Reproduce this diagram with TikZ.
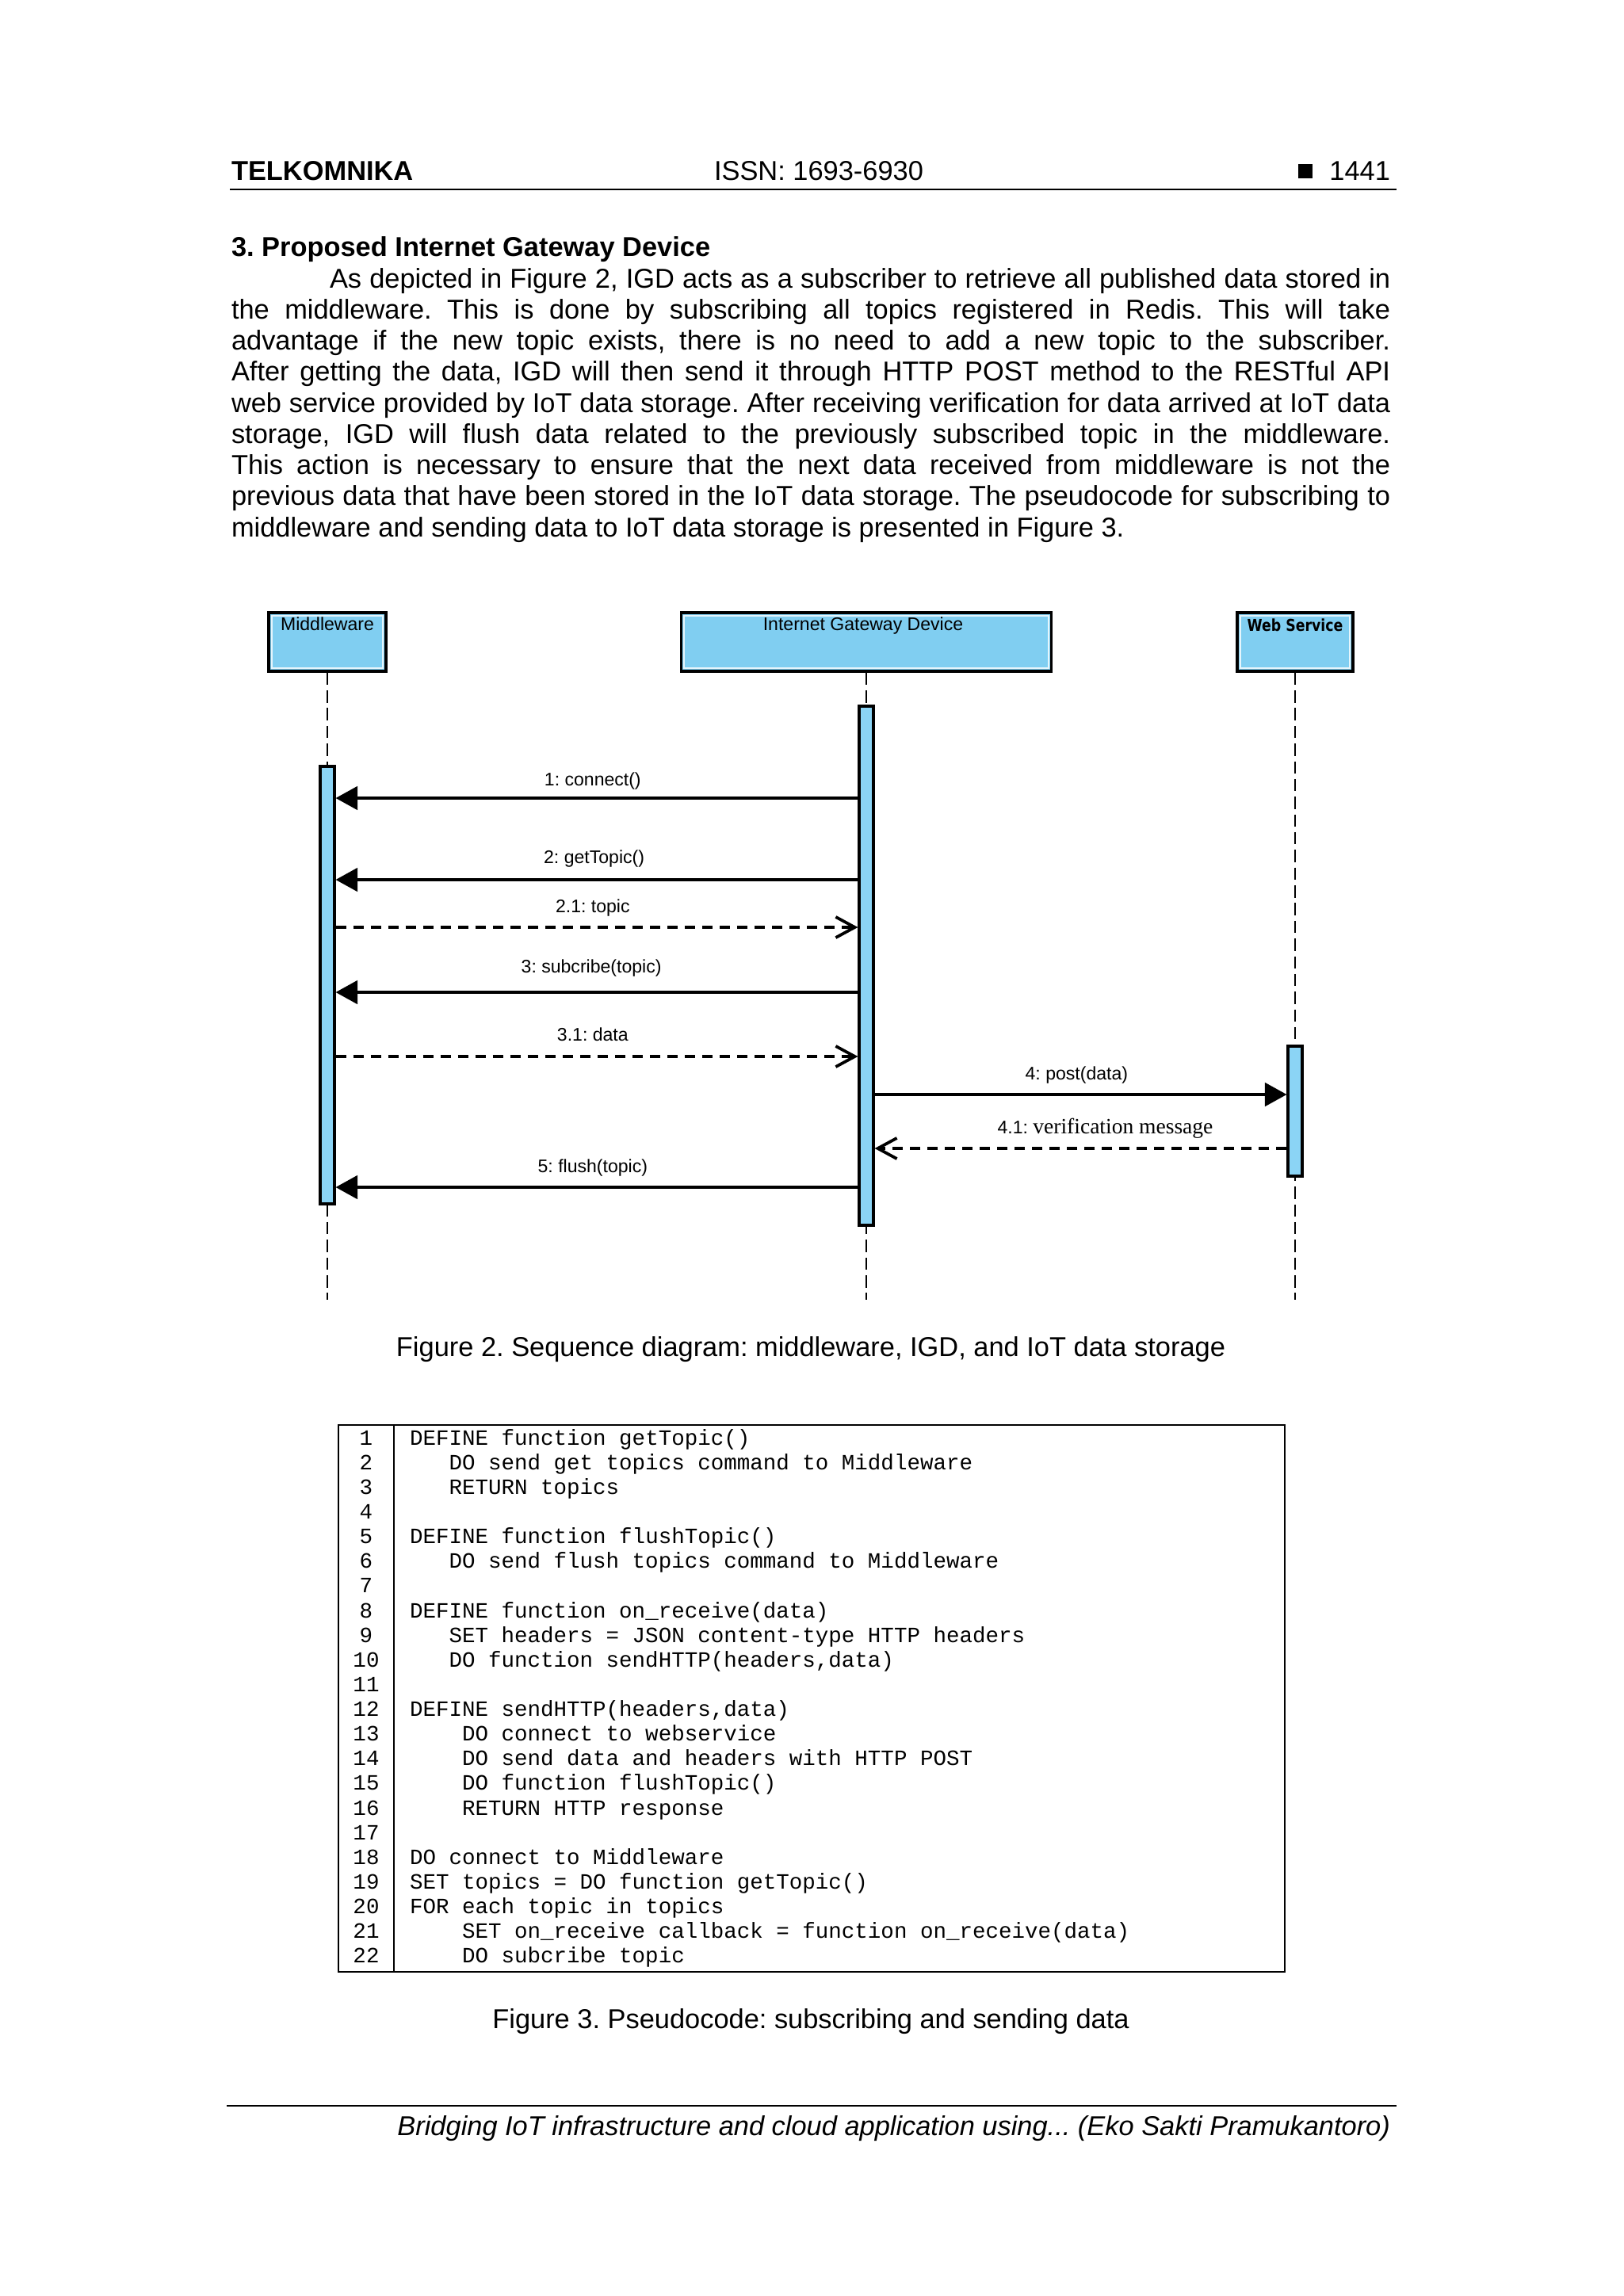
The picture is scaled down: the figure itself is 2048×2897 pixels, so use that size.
\documentclass[tikz,border=0pt]{standalone}
\usepackage{fontspec}
\setmainfont{Liberation Sans}
\newfontfamily\codefont{Liberation Mono}
\newfontfamily\seriffont{Liberation Serif}
\newfontfamily\dvfont{DejaVu Sans}
\usepackage{graphicx}
\usetikzlibrary{arrows.meta}
\frenchspacing
\definecolor{boxblue}{HTML}{80CEF1}
\definecolor{barblue}{HTML}{8BD4F5}
\newcommand\pxu{0.29066pt}
\tikzset{
  zsep/.style={inner sep=0pt, outer sep=0pt},
  bodytxt/.style={zsep, font=\fontsize{10}{11.4}\selectfont},
  lbox/.style={draw=black, line width=1pt, fill=boxblue, inner sep=0pt, minimum height=74*\pxu},
  actbar/.style={draw=black, line width=0.9pt, fill=barblue, inner sep=0pt, minimum width=18*\pxu},
  boxlbl/.style={zsep, anchor=base, font=\fontsize{6.7}{8}\selectfont},
  lifeline/.style={line width=0.45pt, dash pattern=on 4.5pt off 2pt},
  callmsg/.style={line width=0.9pt, -{Triangle[length=8pt,width=8.6pt]}},
  replymsg/.style={line width=1.1pt, dash pattern=on 3.8pt off 2.6pt, -{Straight Barb[length=7pt,width=7.6pt]}},
  msg/.style={zsep, anchor=base, midway, font=\fontsize{6.7}{8}\selectfont},
  lnum/.style={zsep, anchor=base, font=\codefont\fontsize{8}{9}\selectfont},
  codetxt/.style={zsep, anchor=base west, font=\codefont\fontsize{8}{9}\selectfont},
}
\newcommand\pline[3]{\node[bodytxt, anchor=base west] (p#1) at (#2,{363+(#1-1)*39.25}) {#3};}
\newcommand\codeln[3]{%
  \node[lnum] (n#1) at (462,{1823+(#1-1)*31.14}) {#1};
  \node[codetxt] (c#1) at ({517+#2*16.51},{1823+(#1-1)*31.14}) {#3};}
\newcommand\numln[1]{\node[lnum] (n#1) at (462,{1823+(#1-1)*31.14}) {#1};}
\begin{document}
\begin{tikzpicture}[x=0.29066pt, y=-0.29066pt]
\useasboundingbox[fill=white] (0,0) rectangle (2048,2897);

% ---------- header ----------
\node[bodytxt, anchor=base west, font=\bfseries\fontsize{10}{11.4}\selectfont] (jn) at (292,227) {TELKOMNIKA};
\node[bodytxt, anchor=base] (issn) at (1033,227) {ISSN: 1693-6930};
\node[bodytxt, anchor=base east] (pg) at (1754,227) {1441};
\fill (1638,207) rectangle (1656,225);
\draw[line width=0.7pt] (290,239) -- (1762,239);

% ---------- section text ----------
\node[bodytxt, anchor=base west, font=\bfseries\fontsize{10}{11.4}\selectfont] (sec) at (292,323) {3. Proposed Internet Gateway Device};
\pline{1}{416}{\makebox[389pt][s]{As depicted in Figure 2, IGD acts as a subscriber to retrieve all published data stored in}}
\pline{2}{292}{\makebox[425pt][s]{the middleware. This is done by subscribing all topics registered in Redis. This will take}}
\pline{3}{292}{\makebox[425pt][s]{advantage if the new topic exists, there is no need to add a new topic to the subscriber.}}
\pline{4}{292}{\makebox[425pt][s]{After getting the data, IGD will then send it through HTTP POST method to the RESTful API}}
\pline{5}{292}{\makebox[425pt][s]{web service provided by IoT data storage. After receiving verification for data arrived at IoT data}}
\pline{6}{292}{\makebox[425pt][s]{storage, IGD will flush data related to the previously subscribed topic in the middleware.}}
\pline{7}{292}{\makebox[425pt][s]{This action is necessary to ensure that the next data received from middleware is not the}}
\pline{8}{292}{\makebox[425pt][s]{previous data that have been stored in the IoT data storage. The pseudocode for subscribing to}}
\pline{9}{292}{middleware and sending data to IoT data storage is presented in Figure 3.}

% ---------- sequence diagram ----------
\node[lbox, minimum width=148*\pxu] (mw) at (413,810) {};
\node[lbox, minimum width=467*\pxu] (igd) at (1093,810) {};
\node[lbox, minimum width=146*\pxu] (ws) at (1634,810) {};
\foreach \b in {mw,igd,ws}{
  \draw[white, line width=0.6pt, opacity=0.8] ([shift={(1.6pt,-1.6pt)}]\b.north west) rectangle ([shift={(-1.6pt,1.6pt)}]\b.south east);
}
\node[boxlbl] (mwl) at (mw.north |- 0,795) {Middleware};
\node[boxlbl] (igdl) at (1089,795) {Internet Gateway Device};
\node[boxlbl] (wsl) at (ws.north |- 0,796) {\dvfont\bfseries\fontsize{6}{7}\selectfont\scalebox{0.84}[1]{Web Service}};

\coordinate (mwend) at (413,1640);
\coordinate (igdend) at (1093,1640);
\coordinate (wsend) at (1634,1640);
\draw[lifeline] (mw.south) -- (mwend);
\draw[lifeline] (igd.south) -- (igdend);
\draw[lifeline] (ws.south) -- (wsend);

\node[actbar, minimum height=552*\pxu] (mwbar) at (413,1243) {};
\node[actbar, minimum height=655*\pxu] (igdbar) at (1093,1218.5) {};
\node[actbar, minimum height=164*\pxu] (wsbar) at (1634,1402) {};

\draw[callmsg] (igdbar.west |- 0,1007) -- node[msg, xshift=-1.5pt, yshift=4.6pt] {1: connect()} (mwbar.east |- 0,1007);
\draw[callmsg] (igdbar.west |- 0,1110) -- node[msg, xshift=-1pt, yshift=6pt] {2: getTopic()} (mwbar.east |- 0,1110);
\draw[replymsg] (mwbar.east |- 0,1170) -- node[msg, xshift=-1.5pt, yshift=5.5pt] {2.1: topic} (igdbar.west |- 0,1170);
\draw[callmsg] (igdbar.west |- 0,1252) -- node[msg, xshift=-2pt, yshift=7pt] {3: subcribe(topic)} (mwbar.east |- 0,1252);
\draw[replymsg] (mwbar.east |- 0,1333) -- node[msg, xshift=-1.5pt, yshift=5.8pt] {3.1: data} (igdbar.west |- 0,1333);
\draw[callmsg] (igdbar.east |- 0,1381) -- node[msg, xshift=-1.5pt, yshift=5.5pt] {4: post(data)} (wsbar.west |- 0,1381);
\draw[replymsg] (wsbar.west |- 0,1449) -- node[msg, xshift=9pt, yshift=5.5pt] {4.1: {\seriffont\fontsize{8}{9}\selectfont verification message}} (igdbar.east |- 0,1449);
\draw[callmsg] (igdbar.west |- 0,1498) -- node[msg, xshift=-1.5pt, yshift=5.5pt] {5: flush(topic)} (mwbar.east |- 0,1498);

\node[bodytxt, anchor=base] (cap2) at (1023,1711) {Figure 2. Sequence diagram: middleware, IGD, and IoT data storage};

% ---------- pseudocode ----------
\node[draw, line width=0.6pt, inner sep=0pt, minimum width=1194*\pxu, minimum height=690*\pxu] (codebox) at (1024,2143) {};
\draw[line width=0.6pt] (codebox.north -| 497,0) -- (codebox.south -| 497,0);
\codeln{1}{0}{DEFINE function getTopic()}
\codeln{2}{3}{DO send get topics command to Middleware}
\codeln{3}{3}{RETURN topics}
\numln{4}
\codeln{5}{0}{DEFINE function flushTopic()}
\codeln{6}{3}{DO send flush topics command to Middleware}
\numln{7}
\codeln{8}{0}{DEFINE function on\_receive(data)}
\codeln{9}{3}{SET headers = JSON content-type HTTP headers}
\codeln{10}{3}{DO function sendHTTP(headers,data)}
\numln{11}
\codeln{12}{0}{DEFINE sendHTTP(headers,data)}
\codeln{13}{4}{DO connect to webservice}
\codeln{14}{4}{DO send data and headers with HTTP POST}
\codeln{15}{4}{DO function flushTopic()}
\codeln{16}{4}{RETURN HTTP response}
\numln{17}
\codeln{18}{0}{DO connect to Middleware}
\codeln{19}{0}{SET topics = DO function getTopic()}
\codeln{20}{0}{FOR each topic in topics}
\codeln{21}{4}{SET on\_receive callback = function on\_receive(data)}
\codeln{22}{4}{DO subcribe topic}

\node[bodytxt, anchor=base] (cap3) at (1023,2559) {Figure 3. Pseudocode: subscribing and sending data};

% ---------- footer ----------
\draw[line width=0.75pt] (286,2657) -- (1762,2657);
\node[bodytxt, anchor=base east, font=\itshape\fontsize{10}{11.4}\selectfont] (foot) at (1754,2694) {Bridging IoT infrastructure and cloud application using... (Eko Sakti Pramukantoro)};
\end{tikzpicture}
\end{document}
